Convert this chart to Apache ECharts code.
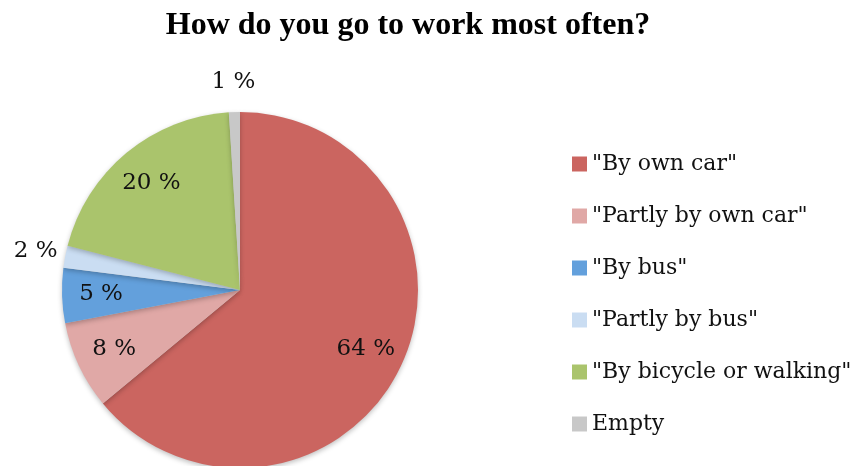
<!DOCTYPE html>
<html>
<head>
<meta charset="utf-8">
<script src="https://cdn.jsdelivr.net/npm/echarts@6/dist/echarts.min.js"></script>
<style>
  html, body { margin: 0; padding: 0; background: #fff; }
  #chart { width: 851px; height: 466px; }
</style>
</head>
<body>
<div id="chart"></div>
<script>
// Commuting survey: share of respondents per mode of transport
const categories = ['"By own car"', '"Partly by own car"', '"By bus"', '"Partly by bus"', '"By bicycle or walking"', 'Empty'];
const shares = [64, 8, 5, 2, 20, 1];
const colors = ['#CB6560', '#E0A8A6', '#63A0DC', '#CADDF2', '#AAC46C', '#C8C8C8'];
// slices whose value label sits outside the pie
const outsideLabel = [false, false, false, true, false, true];

const cx = 240, cy = 290, R = 178;
const titleFont = '"Liberation Serif", "Times New Roman", serif';
const bodyFont = '"DejaVu Serif", "Liberation Serif", serif';

const pieData = categories.map((name, i) => ({
  name, value: shares[i], itemStyle: { color: colors[i] }
}));

// transparent ring used only to place the value labels at its mid-radius
function labelLayer(radius, showWhen) {
  return {
    type: 'pie',
    center: [cx, cy],
    radius: radius,
    startAngle: 90,
    clockwise: true,
    silent: true,
    legendHoverLink: false,
    animation: false,
    itemStyle: { color: 'rgba(0,0,0,0)', borderWidth: 0 },
    emphasis: { disabled: true },
    labelLine: { show: false },
    data: categories.map((name, i) => ({
      name, value: shares[i],
      label: {
        show: showWhen(i),
        position: 'inside',
        formatter: '{c} %',
        color: '#111',
        fontFamily: bodyFont,
        fontSize: 23
      }
    }))
  };
}

const chart = echarts.init(document.getElementById('chart'), null, { renderer: 'canvas' });
chart.setOption({
  backgroundColor: '#ffffff',
  animation: false,
  title: {
    text: 'How do you go to work most often?',
    left: 403,
    textAlign: 'center',
    top: 5,
    textStyle: { fontFamily: titleFont, fontWeight: 'bold', fontSize: 32, color: '#000' }
  },
  legend: {
    orient: 'vertical',
    left: 567,
    top: 148,
    icon: 'rect',
    itemWidth: 15,
    itemHeight: 15,
    itemGap: 30,
    selectedMode: false,
    data: categories,
    textStyle: { fontFamily: bodyFont, fontSize: 22, color: '#111', lineHeight: 22 }
  },
  series: [
    {
      type: 'pie',
      name: 'share',
      center: [cx, cy],
      radius: [0, R],
      startAngle: 90,
      clockwise: true,
      animation: false,
      label: { show: false },
      labelLine: { show: false },
      emphasis: { disabled: true },
      itemStyle: {
        borderWidth: 0,
        shadowBlur: 5,
        shadowOffsetY: 2,
        shadowColor: 'rgba(0,0,0,0.25)'
      },
      data: pieData
    },
    labelLayer([94, R], i => !outsideLabel[i]),
    labelLayer([190, 220], i => outsideLabel[i])
  ]
});
</script>
</body>
</html>
